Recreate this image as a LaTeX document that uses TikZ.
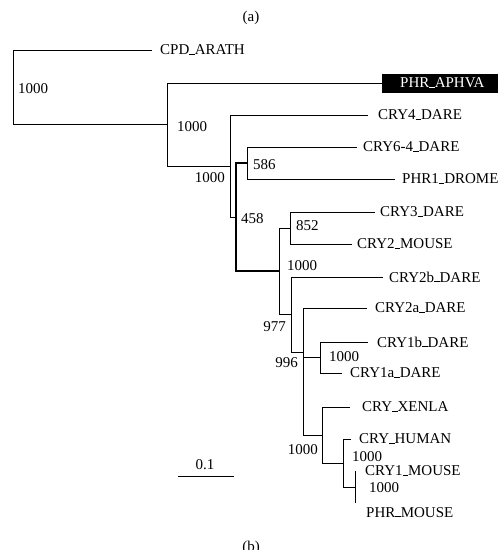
\documentclass[tikz,border=0pt]{standalone}
\usepackage{fontspec}
\setmainfont{Liberation Serif}
\newcommand\lbl{\fontsize{15}{18}\selectfont}
\newcommand\us{\rule{0.36em}{0.7pt}}

\begin{document}
\begin{tikzpicture}[x=1pt,y=-1pt,
    br/.style={line width=0.9pt},
    bb/.style={line width=1.6pt},
    tip/.style={anchor=west,inner xsep=6pt,inner ysep=1pt,font=\lbl},
    bs/.style={inner sep=0pt,font=\lbl}]
  \useasboundingbox (0,0) rectangle (498,550);
  % inner nodes of the tree
  \coordinate (r) at (13,87);
  \coordinate (a) at (167,124);
  \coordinate (b) at (230,166);
  \coordinate (c) at (236,217);
  \coordinate (d) at (247,163);
  \coordinate (e) at (279,271);
  \coordinate (f) at (290,228);
  \coordinate (g) at (291,314);
  \coordinate (h) at (303,352);
  \coordinate (i) at (320,357);
  \coordinate (j) at (322,435);
  \coordinate (k) at (343,463);
  \coordinate (m) at (355,487);
  % leaves
  \node[tip,inner xsep=8pt] (cpd) at (152,50) {CPD\us ARATH};
  \node[tip,fill=black,text=white,inner xsep=18pt,minimum height=19pt] (aphva) at (382,83) {PHR\us APHVA};
  \node[tip,inner xsep=10pt] (cry4) at (368,115) {CRY4\us DARE};
  \node[tip] (cry64) at (357,147) {CRY6-4\us DARE};
  \node[tip,inner xsep=7pt] (drome) at (395,179) {PHR1\us DROME};
  \node[tip,inner xsep=5pt] (cry3) at (375,212) {CRY3\us DARE};
  \node[tip,inner xsep=5pt] (cry2m) at (352,244) {CRY2\us MOUSE};
  \node[tip] (cry2b) at (383,277) {CRY2b\us DARE};
  \node[tip,inner xsep=8pt] (cry2a) at (367,308) {CRY2a\us DARE};
  \node[tip,inner xsep=9pt] (cry1b) at (368,342) {CRY1b\us DARE};
  \node[tip,inner xsep=8pt] (cry1a) at (342,373) {CRY1a\us DARE};
  \node[tip,inner xsep=12pt] (xenla) at (350,407) {CRY\us XENLA};
  \node[tip,inner xsep=8pt] (human) at (351,439) {CRY\us HUMAN};
  \node[tip,inner xsep=10pt] (cry1m) at (355,471) {CRY1\us MOUSE};
  \node[tip,anchor=north west,inner xsep=11pt,inner ysep=4pt] (phrm) at (355,503) {PHR\us MOUSE};
  % branches
  \draw[br] (r) |- (cpd.west);
  \draw[br] (r) |- (a);
  \draw[br] (a) |- (aphva.west);
  \draw[br] (a) |- (b);
  \draw[br] (b) |- (cry4.west);
  \draw[br] (b) |- (c);
  \draw[bb] (c) |- (d);
  \draw[bb] (c) |- (e);
  \draw[br] (d) |- (cry64.west);
  \draw[br] (d) |- (drome.west);
  \draw[br] (e) |- (f);
  \draw[br] (e) |- (g);
  \draw[br] (f) |- (cry3.west);
  \draw[br] (f) |- (cry2m.west);
  \draw[br] (g) |- (cry2b.west);
  \draw[br] (g) |- (h);
  \draw[br] (h) |- (cry2a.west);
  \draw[br] (h) |- (i);
  \draw[br] (h) |- (j);
  \draw[br] (i) |- (cry1b.west);
  \draw[br] (i) |- (cry1a.west);
  \draw[br] (j) |- (xenla.west);
  \draw[br] (j) |- (k);
  \draw[br] (k) |- (human.west);
  \draw[br] (k) |- (m);
  \draw[br] (m) |- (cry1m.west);
  \draw[br] (m) |- (phrm.north west);
  % bootstrap values
  \node[bs,anchor=west] (v1) at (18,89) {1000};
  \node[bs,anchor=west] (v2) at (177,127) {1000};
  \node[bs,anchor=east] (v3) at (225,178) {1000};
  \node[bs,anchor=west] (v4) at (241,219) {458};
  \node[bs,anchor=west] (v5) at (253,165) {586};
  \node[bs,anchor=west] (v6) at (296,226) {852};
  \node[bs,anchor=west] (v7) at (287,266) {1000};
  \node[bs,anchor=east] (v8) at (286,327) {977};
  \node[bs,anchor=east] (v9) at (298,363) {996};
  \node[bs,anchor=west] (v10) at (329,357) {1000};
  \node[bs,anchor=east] (v11) at (318,450) {1000};
  \node[bs,anchor=west] (v12) at (352,457) {1000};
  \node[bs,anchor=west] (v13) at (369,488) {1000};
  % scale bar and captions
  \node[bs] (sc) at (205,465) {0.1};
  \coordinate (s0) at (178,476);
  \coordinate (s1) at (234,476);
  \draw[br] (s0) -- (s1);
  \node[bs] (capa) at (251,18) {(a)};
  \node[bs] (capb) at (251,548) {(b)};
\end{tikzpicture}
\end{document}
